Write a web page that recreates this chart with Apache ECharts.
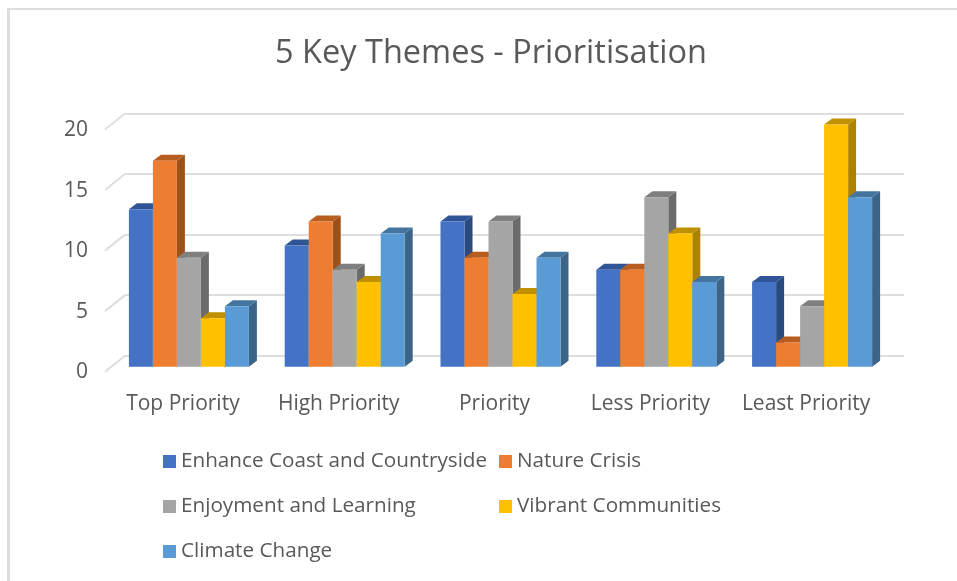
<!DOCTYPE html>
<html><head><meta charset="utf-8">
<style>html,body{margin:0;padding:0;background:#fff}#c{width:957px;height:581px}</style>
<script src="https://cdn.jsdelivr.net/npm/echarts@6/dist/echarts.min.js"></script>
</head><body><div id="c"></div>
<script>
const categories = ['Top Priority','High Priority','Priority','Less Priority','Least Priority'];
const seriesNames = ['Enhance Coast and Countryside','Nature Crisis','Enjoyment and Learning','Vibrant Communities','Climate Change'];
const enhance = [13,10,12,8,7];
const nature = [17,12,9,8,2];
const enjoyment = [9,8,12,14,5];
const vibrant = [4,7,6,11,20];
const climate = [5,11,9,7,14];
const yTicks = [0,5,10,15,20];
const frontColors = ['#4472C4','#ED7D31','#A5A5A5','#FFC000','#5B9BD5'];
const topColors = ['#2F5597','#B85C20','#7F7F7F','#BF9000','#44759F'];
const sideColors = ['#2B4A80','#9E5019','#6B6B6B','#AD8200','#3B6489'];
const FONT = 'Open Sans';
const TXT = '#595959';
const BAR_W = 24, DX = 8, DY = 6, FRONT_DX = -14, FRONT_DY = 11, FLOOR_DX = -20, FLOOR_DY = 16;

function barRender(si){
  return function(params, api){
    const cat = api.value(0), v = api.value(1);
    const top = api.coord([cat, v]), base = api.coord([cat, 0]);
    const x0 = top[0] + FRONT_DX - 2.5*BAR_W + si*BAR_W, x1 = x0 + BAR_W;
    const yT = top[1] + FRONT_DY, yB = base[1] + FRONT_DY;
    return {type:'group', children:[
      {type:'polygon', shape:{points:[[x1,yB],[x1+DX,yB-DY],[x1+DX,yT-DY],[x1,yT]]}, style:{fill:sideColors[si]}},
      {type:'polygon', shape:{points:[[x0,yT],[x0+DX,yT-DY],[x1+DX,yT-DY],[x1,yT]]}, style:{fill:topColors[si]}},
      {type:'rect', shape:{x:x0,y:yT,width:BAR_W,height:yB-yT}, style:{fill:frontColors[si]}}
    ]};
  };
}
const values = [enhance,nature,enjoyment,vibrant,climate];
const barSeries = seriesNames.map((name,si)=>({
  name, type:'custom', coordinateSystem:'cartesian2d', renderItem:barRender(si),
  encode:{x:0,y:1}, itemStyle:{color:frontColors[si]}, z:3,
  data: values[si].map((v,i)=>[i,v])
}));
const floorTicks = {
  type:'custom', coordinateSystem:'cartesian2d', silent:true, z:1,
  encode:{x:0,y:1}, data: yTicks.map(t=>[0,t]),
  renderItem(params, api){
    const p = api.coord([0, api.value(1)]);
    const x = p[0] - api.size([1,0])[0]/2;
    return {type:'line', shape:{x1:x,y1:p[1],x2:x+FLOOR_DX,y2:p[1]+FLOOR_DY}, style:{stroke:'#DEDEDE',lineWidth:2}};
  }
};
const legendBase = {orient:'vertical', itemWidth:13, itemHeight:13, itemGap:16, icon:'rect', selectedMode:false, padding:0,
  textStyle:{fontFamily:FONT,fontSize:20.7,color:TXT,lineHeight:29}};
const chart = echarts.init(document.getElementById('c'),null,{renderer:'canvas'});
chart.setOption({
  animation:false, backgroundColor:'#fff',
  title:{text:'5 Key Themes - Prioritisation', left:486, top:32, textAlign:'center',
    textStyle:{fontFamily:FONT,fontSize:32.5,fontWeight:'normal',color:TXT}},
  grid:{left:125,right:53,top:113.5,bottom:225.3},
  xAxis:{type:'category',data:categories,axisLine:{show:false},axisTick:{show:false},splitLine:{show:false},
    axisLabel:{interval:0,margin:38,fontFamily:FONT,fontSize:21,color:TXT,padding:[0,40,0,0]}},
  yAxis:{type:'value',min:0,max:20,interval:5,axisLine:{show:false},axisTick:{show:false},
    splitLine:{lineStyle:{color:'#DEDEDE',width:2}},
    axisLabel:{margin:37,fontFamily:FONT,fontSize:21,color:TXT,verticalAlign:'top',lineHeight:21,padding:[6,0,0,0],formatter:v=>String(v)}},
  legend:[
    Object.assign({},legendBase,{left:163,top:447,data:[seriesNames[0],seriesNames[2],seriesNames[4]]}),
    Object.assign({},legendBase,{left:499,top:447,data:[seriesNames[1],seriesNames[3]]})
  ],
  graphic:[
    {type:'rect',shape:{x:7,y:8,width:950,height:2},style:{fill:'#DEDEDE'},silent:true},
    {type:'rect',shape:{x:7,y:8,width:3,height:573},style:{fill:'#DEDEDE'},silent:true}
  ],
  series:[floorTicks].concat(barSeries)
});
</script></body></html>
